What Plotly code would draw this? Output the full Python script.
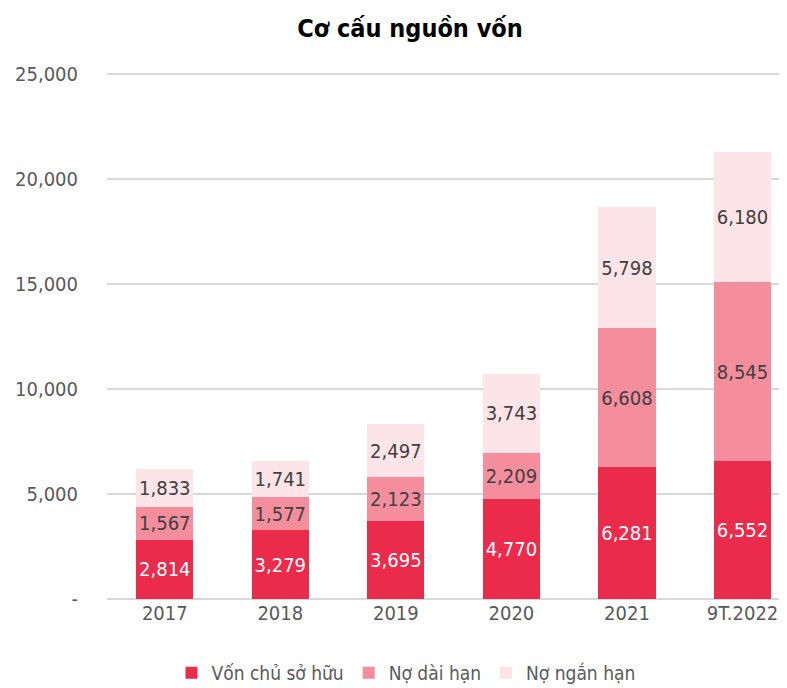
import plotly.graph_objects as go

categories = ["2017", "2018", "2019", "2020", "2021", "9T.2022"]
von_chu_so_huu = [2814, 3279, 3695, 4770, 6281, 6552]
no_dai_han = [1567, 1577, 2123, 2209, 6608, 8545]
no_ngan_han = [1833, 1741, 2497, 3743, 5798, 6180]
series_names = ["Vốn chủ sở hữu", "Nợ dài hạn", "Nợ ngắn hạn"]
y_tickvals = [0, 5000, 10000, 15000, 20000, 25000]
y_ticktext = ["-", "5,000", "10,000", "15,000", "20,000", "25,000"]

FONT = "DejaVu Sans Condensed"
colors = ["#EA2B4B", "#F48E9D", "#FCE4E8"]
text_colors = ["#FFFFFF", "#404040", "#404040"]

fig = go.Figure()
for name, vals, c, tc in zip(series_names, [von_chu_so_huu, no_dai_han, no_ngan_han], colors, text_colors):
    fig.add_trace(go.Bar(
        x=categories, y=vals, name=name, showlegend=False,
        marker=dict(color=c, line=dict(width=0)),
        text=[f"{v:,}" for v in vals],
        textposition="inside", insidetextanchor="middle", textangle=0,
        textfont=dict(family=FONT, size=20, color=tc),
        constraintext="none",
        hoverinfo="skip",
    ))
# legend entries with small square swatches
for name, c in zip(series_names, colors):
    fig.add_trace(go.Scatter(
        x=[None], y=[None], mode="markers", name=name,
        marker=dict(symbol="square", size=12, color=c),
        hoverinfo="skip",
    ))

fig.update_layout(
    barmode="stack",
    bargap=0.505,
    width=787, height=688,
    margin=dict(l=99, r=8, t=65, b=97),
    paper_bgcolor="white", plot_bgcolor="white",
    font=dict(family=FONT, color="#595959", size=20),
    title=dict(text="<b>Cơ cấu nguồn vốn</b>", x=402 / 787, xanchor="center",
               yref="container", y=1 - 20 / 688, yanchor="middle",
               font=dict(family=FONT, size=25, color="#000000")),
    legend=dict(orientation="h", xref="container", x=398 / 787, xanchor="center",
                yref="container", y=1 - 665 / 688, yanchor="middle",
                font=dict(family=FONT, size=19, color="#595959"),
                traceorder="normal", itemwidth=30),
    xaxis=dict(range=[-0.5, 5.385], showgrid=False, showline=False, ticks="",
               tickfont=dict(family=FONT, size=20, color="#595959")),
    yaxis=dict(range=[0, 25060], tickvals=y_tickvals, ticktext=y_ticktext,
               showgrid=True, gridcolor="#D9D9D9", gridwidth=1.5,
               zeroline=True, zerolinecolor="#D9D9D9", zerolinewidth=1.5,
               ticks="", ticklabelstandoff=28,
               tickfont=dict(family=FONT, size=20, color="#595959")),
)

fig.write_html("out.html")
